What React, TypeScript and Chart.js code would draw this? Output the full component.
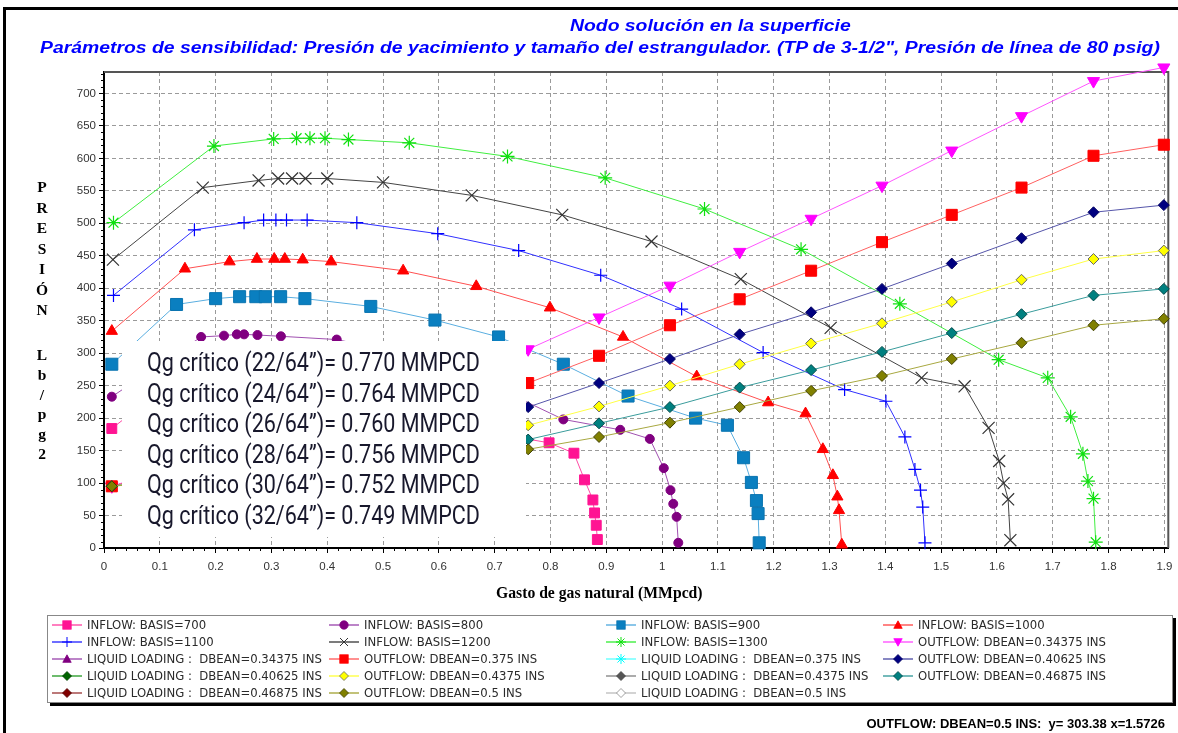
import React, { useEffect, useRef } from 'react';
import { Chart, registerables } from 'chart.js';

Chart.register(...registerables);

// ---------------- DATA ----------------
const inflow700X = [0.014, 0.12, 0.17, 0.2, 0.23, 0.26, 0.3, 0.4, 0.5, 0.6, 0.69, 0.7975, 0.842, 0.861, 0.876, 0.879, 0.882, 0.884];
const inflow700Y = [184, 255, 262, 265, 266, 266, 265, 258, 244, 222, 178, 162, 146, 105, 74, 54, 35, 13];

const inflow800X = [0.014, 0.174, 0.215, 0.238, 0.251, 0.275, 0.317, 0.417, 0.52, 0.62, 0.72, 0.823, 0.925, 0.978, 1.003, 1.015, 1.02, 1.026, 1.029];
const inflow800Y = [233, 325, 327, 329, 329, 328, 326, 321, 302, 278, 240, 198, 182, 168, 123, 89, 68, 48, 8];

const inflow900X = [0.014, 0.13, 0.2, 0.243, 0.272, 0.289, 0.3165, 0.36, 0.478, 0.593, 0.707, 0.823, 0.939, 1.06, 1.117, 1.146, 1.16, 1.169, 1.172, 1.174];
const inflow900Y = [283, 375, 384, 387, 387, 387, 387, 384, 372, 351, 325, 283, 234, 200, 189, 139, 101, 73, 53, 8];

const inflow1000X = [0.014, 0.145, 0.225, 0.274, 0.305, 0.324, 0.356, 0.407, 0.536, 0.667, 0.799, 0.93, 1.062, 1.19, 1.257, 1.288, 1.306, 1.314, 1.317, 1.322];
const inflow1000Y = [334, 430, 441, 445, 445, 445, 444, 441, 427, 403, 370, 325, 264, 224, 207, 152, 112, 79, 58, 5];

const inflow1100X = [0.017, 0.162, 0.251, 0.286, 0.308, 0.327, 0.364, 0.453, 0.598, 0.743, 0.89, 1.035, 1.181, 1.327, 1.401, 1.435, 1.453, 1.463, 1.467, 1.471];
const inflow1100Y = [389, 490, 501, 505, 505, 505, 505, 501, 484, 458, 420, 368, 301, 244, 226, 171, 121, 89, 63, 8];

const inflow1200X = [0.016, 0.177, 0.277, 0.312, 0.337, 0.361, 0.4, 0.5, 0.659, 0.821, 0.981, 1.141, 1.302, 1.465, 1.542, 1.585, 1.604, 1.612, 1.62, 1.624];
const inflow1200Y = [444, 555, 566, 569, 569, 569, 569, 563, 543, 513, 472, 414, 339, 262, 249, 185, 134, 100, 75, 12];

const inflow1300X = [0.017, 0.197, 0.304, 0.345, 0.369, 0.396, 0.438, 0.547, 0.723, 0.898, 1.076, 1.249, 1.426, 1.603, 1.691, 1.732, 1.754, 1.763, 1.773, 1.777];
const inflow1300Y = [501, 619, 630, 631, 631, 631, 629, 624, 603, 570, 522, 460, 376, 290, 262, 202, 145, 103, 76, 9];

const outflowX = [0.014, 0.76, 0.887, 1.014, 1.139, 1.267, 1.394, 1.519, 1.644, 1.773, 1.899];
const outflow34375Y = [95, 306, 355, 404, 456, 507, 558, 612, 665, 719, 740];
const outflow375Y = [95, 254, 296, 343, 383, 427, 471, 513, 555, 604, 621];
const outflow40625Y = [95, 217, 254, 291, 329, 363, 399, 438, 477, 517, 528];
const outflow4375Y = [95, 189, 218, 250, 283, 315, 346, 379, 413, 445, 458];
const outflow46875Y = [95, 167, 192, 217, 247, 274, 302, 331, 360, 389, 399];
const outflow5Y = [95, 152, 171, 193, 217, 242, 265, 291, 316, 343, 353];

const emptyX: number[] = [];
const emptyY: number[] = [];

const qgLines = [
  'Qg crítico (22/64”)= 0.770 MMPCD',
  'Qg crítico (24/64”)= 0.764 MMPCD',
  'Qg crítico (26/64”)= 0.760 MMPCD',
  'Qg crítico (28/64”)= 0.756 MMPCD',
  'Qg crítico (30/64”)= 0.752 MMPCD',
  'Qg crítico (32/64”)= 0.749 MMPCD',
];

const titleLine1 = 'Nodo solución en la superficie';
const titleLine2 = 'Parámetros de sensibilidad: Presión de yacimiento y tamaño del estrangulador. (TP de 3-1/2", Presión de línea de 80 psig)';
const yTitleTop = ['P', 'R', 'E', 'S', 'I', 'Ó', 'N'];
const yTitleBottom = ['L', 'b', '/', 'p', 'g', '2'];
const xTitle = 'Gasto de gas natural (MMpcd)';
const statusText = 'OUTFLOW: DBEAN=0.5 INS:  y= 303.38 x=1.5726';

type Spec = { label: string; xs: number[]; ys: number[]; line: string; fill: string; stroke: string; style: string; r: number; rot?: number };

const SERIES: Spec[] = [
  { label: 'INFLOW: BASIS=700', xs: inflow700X, ys: inflow700Y, line: '#ff4aa5', fill: '#ff1493', stroke: '#ff1493', style: 'rect', r: 7 },
  { label: 'INFLOW: BASIS=800', xs: inflow800X, ys: inflow800Y, line: '#a050b0', fill: '#800080', stroke: '#800080', style: 'circle', r: 4.5 },
  { label: 'INFLOW: BASIS=900', xs: inflow900X, ys: inflow900Y, line: '#5aaee0', fill: '#0a7fc0', stroke: '#0a74b0', style: 'rect', r: 8.5 },
  { label: 'INFLOW: BASIS=1000', xs: inflow1000X, ys: inflow1000Y, line: '#ff5050', fill: '#ff0000', stroke: '#ff0000', style: 'triangle', r: 6.5 },
  { label: 'INFLOW: BASIS=1100', xs: inflow1100X, ys: inflow1100Y, line: '#3030ff', fill: '#0000ff', stroke: '#0000ff', style: 'cross', r: 6.5 },
  { label: 'INFLOW: BASIS=1200', xs: inflow1200X, ys: inflow1200Y, line: '#444444', fill: '#333333', stroke: '#333333', style: 'crossRot', r: 8.5 },
  { label: 'INFLOW: BASIS=1300', xs: inflow1300X, ys: inflow1300Y, line: '#40ee40', fill: '#10e010', stroke: '#10e010', style: 'star', r: 7 },
  { label: 'OUTFLOW: DBEAN=0.34375 INS', xs: outflowX, ys: outflow34375Y, line: '#ff55ff', fill: '#ff00ff', stroke: '#ff00ff', style: 'triangle', r: 7, rot: 180 },
  { label: 'LIQUID LOADING :  DBEAN=0.34375 INS', xs: emptyX, ys: emptyY, line: '#a050b0', fill: '#800080', stroke: '#800080', style: 'triangle', r: 6 },
  { label: 'OUTFLOW: DBEAN=0.375 INS', xs: outflowX, ys: outflow375Y, line: '#ff6060', fill: '#ff0000', stroke: '#ff0000', style: 'rect', r: 7.8 },
  { label: 'LIQUID LOADING :  DBEAN=0.375 INS', xs: emptyX, ys: emptyY, line: '#66ffff', fill: '#00ffff', stroke: '#00ffff', style: 'star', r: 6 },
  { label: 'OUTFLOW: DBEAN=0.40625 INS', xs: outflowX, ys: outflow40625Y, line: '#5555aa', fill: '#000080', stroke: '#000060', style: 'rectRot', r: 5.5 },
  { label: 'LIQUID LOADING :  DBEAN=0.40625 INS', xs: emptyX, ys: emptyY, line: '#30a030', fill: '#006400', stroke: '#004000', style: 'rectRot', r: 5.5 },
  { label: 'OUTFLOW: DBEAN=0.4375 INS', xs: outflowX, ys: outflow4375Y, line: '#ffff44', fill: '#ffff00', stroke: '#666666', style: 'rectRot', r: 5.5 },
  { label: 'LIQUID LOADING :  DBEAN=0.4375 INS', xs: emptyX, ys: emptyY, line: '#888888', fill: '#555555', stroke: '#444444', style: 'rectRot', r: 5.5 },
  { label: 'OUTFLOW: DBEAN=0.46875 INS', xs: outflowX, ys: outflow46875Y, line: '#3a9c9c', fill: '#008080', stroke: '#004848', style: 'rectRot', r: 5.5 },
  { label: 'LIQUID LOADING :  DBEAN=0.46875 INS', xs: emptyX, ys: emptyY, line: '#a04040', fill: '#800000', stroke: '#500000', style: 'rectRot', r: 5.5 },
  { label: 'OUTFLOW: DBEAN=0.5 INS', xs: outflowX, ys: outflow5Y, line: '#a8a840', fill: '#808000', stroke: '#404000', style: 'rectRot', r: 5.5 },
  { label: 'LIQUID LOADING :  DBEAN=0.5 INS', xs: emptyX, ys: emptyY, line: '#c0c0c0', fill: '#ffffff', stroke: '#888888', style: 'rectRot', r: 5.5 },
];

const SANS = '"Liberation Sans", Arial, sans-serif';
const SERIF = '"Liberation Serif", "Times New Roman", serif';

const framePlugin = {
  id: 'frameMinor',
  beforeDatasetsDraw(chart: any) {
    const { ctx, chartArea: a, scales } = chart;
    ctx.save();
    ctx.strokeStyle = '#555';
    ctx.lineWidth = 2;
    ctx.beginPath();
    ctx.moveTo(a.left, a.top);
    ctx.lineTo(a.right, a.top);
    ctx.lineTo(a.right, a.bottom);
    ctx.stroke();
    ctx.strokeStyle = '#000';
    ctx.lineWidth = 1;
    ctx.beginPath();
    for (let v = 10; v < 735; v += 10) {
      if (v % 50 === 0) continue;
      const y = Math.round(scales.y.getPixelForValue(v)) + 0.5;
      ctx.moveTo(a.left - 3, y);
      ctx.lineTo(a.left, y);
    }
    for (let k = 1; k < 96; k++) {
      if (k % 5 === 0) continue;
      const x = Math.round(scales.x.getPixelForValue(k * 0.02)) + 0.5;
      ctx.moveTo(x, a.bottom);
      ctx.lineTo(x, a.bottom + 3);
    }
    ctx.stroke();
    ctx.restore();
  },
};

const boxPlugin = {
  id: 'qgBox',
  afterDatasetsDraw(chart: any) {
    const ctx = chart.ctx;
    ctx.save();
    ctx.fillStyle = '#ffffff';
    ctx.fillRect(122, 341, 404, 196);
    ctx.font = '25px Roboto, "Liberation Sans", sans-serif';
    ctx.fillStyle = '#18182c';
    ctx.textBaseline = 'middle';
    ctx.textAlign = 'left';
    const w0 = ctx.measureText(qgLines[0]).width;
    const sx = 333 / w0;
    qgLines.forEach((t, i) => {
      ctx.save();
      ctx.translate(147, 365 + i * 30.5);
      ctx.scale(sx, 1);
      ctx.fillText(t, 0, 0);
      ctx.restore();
    });
    ctx.restore();
  },
};

function Marker({ s }: { s: Spec }) {
  const cx = 15, cy = 6;
  const r = 4.2;
  let shape: any = null;
  switch (s.style) {
    case 'rect':
      shape = <rect x={cx - r} y={cy - r} width={2 * r} height={2 * r} fill={s.fill} stroke={s.stroke} strokeWidth={0.8} />;
      break;
    case 'circle':
      shape = <circle cx={cx} cy={cy} r={r} fill={s.fill} stroke={s.stroke} strokeWidth={0.8} />;
      break;
    case 'triangle': {
      const up = !s.rot;
      const pts = up
        ? `${cx},${cy - r} ${cx + r},${cy + r * 0.8} ${cx - r},${cy + r * 0.8}`
        : `${cx},${cy + r} ${cx + r},${cy - r * 0.8} ${cx - r},${cy - r * 0.8}`;
      shape = <polygon points={pts} fill={s.fill} stroke={s.stroke} strokeWidth={0.8} />;
      break;
    }
    case 'cross':
      shape = <g stroke={s.stroke} strokeWidth={1}><line x1={cx - 5} y1={cy} x2={cx + 5} y2={cy} /><line x1={cx} y1={cy - 5} x2={cx} y2={cy + 5} /></g>;
      break;
    case 'crossRot':
      shape = <g stroke={s.stroke} strokeWidth={1}><line x1={cx - 4} y1={cy - 4} x2={cx + 4} y2={cy + 4} /><line x1={cx - 4} y1={cy + 4} x2={cx + 4} y2={cy - 4} /></g>;
      break;
    case 'star':
      shape = <g stroke={s.stroke} strokeWidth={1}><line x1={cx - 5} y1={cy} x2={cx + 5} y2={cy} /><line x1={cx} y1={cy - 5} x2={cx} y2={cy + 5} /><line x1={cx - 3.5} y1={cy - 3.5} x2={cx + 3.5} y2={cy + 3.5} /><line x1={cx - 3.5} y1={cy + 3.5} x2={cx + 3.5} y2={cy - 3.5} /></g>;
      break;
    default:
      shape = <polygon points={`${cx - 4.5},${cy} ${cx},${cy - 4.5} ${cx + 4.5},${cy} ${cx},${cy + 4.5}`} fill={s.fill} stroke={s.stroke} strokeWidth={0.8} />;
  }
  return (
    <svg width={30} height={12} style={{ position: 'absolute', left: 0, top: -6, overflow: 'visible' }}>
      <line x1={0} y1={6} x2={30} y2={6} stroke={s.line} strokeWidth={1.4} />
      {shape}
    </svg>
  );
}

export default function App() {
  const ref = useRef<HTMLCanvasElement | null>(null);

  useEffect(() => {
    if (!ref.current) return;
    const datasets = SERIES.map((s, i) => ({
      label: s.label,
      data: s.xs.map((x, k) => ({ x, y: s.ys[k] })),
      borderColor: s.line,
      backgroundColor: s.fill,
      borderWidth: 1,
      pointStyle: s.style,
      pointRadius: s.r,
      pointRotation: s.rot || 0,
      pointBackgroundColor: s.fill,
      pointBorderColor: s.stroke,
      pointBorderWidth: s.style === 'cross' || s.style === 'crossRot' || s.style === 'star' ? 1.2 : 1,
      showLine: true,
      tension: 0,
      fill: false,
      clip: false as any,
      order: -i,
    }));
    const chart = new Chart(ref.current, {
      type: 'line',
      data: { datasets } as any,
      options: {
        animation: false,
        responsive: false,
        devicePixelRatio: 1,
        layout: { padding: { left: 0, top: 72, right: 6, bottom: 0 } },
        plugins: { legend: { display: false }, tooltip: { enabled: false }, title: { display: false } },
        scales: {
          x: {
            type: 'linear',
            min: 0,
            max: 1.907,
            afterFit: (s: any) => { s.height = 185; s.paddingLeft = 0; s.paddingRight = 0; },
            ticks: {
              stepSize: 0.1,
              includeBounds: false,
              autoSkip: false,
              maxRotation: 0,
              color: '#333',
              font: { family: SANS, size: 11.5 },
              padding: 7,
              callback: (v: any) => String(Number(Number(v).toFixed(1))),
            },
            grid: { color: '#9a9a9a', lineWidth: 1, tickLength: 5, tickColor: '#000', tickWidth: 1 },
            border: { display: true, color: '#000', width: 2, dash: [4, 3] },
          },
          y: {
            type: 'linear',
            min: 0,
            max: 733,
            afterFit: (s: any) => { s.width = 104; s.paddingTop = 0; s.paddingBottom = 0; },
            ticks: {
              stepSize: 50,
              includeBounds: false,
              color: '#333',
              font: { family: SANS, size: 11.5 },
              padding: 3,
            },
            grid: { color: '#9a9a9a', lineWidth: 1, tickLength: 5, tickColor: '#000', tickWidth: 1 },
            border: { display: true, color: '#000', width: 2, dash: [4, 3] },
          },
        },
      } as any,
      plugins: [framePlugin, boxPlugin],
    });
    return () => chart.destroy();
  }, []);

  const titleStyle = (left: number, top: number): React.CSSProperties => ({
    position: 'absolute', left, top, whiteSpace: 'pre', font: `italic bold 16px ${SANS}`, color: '#0000ff',
    lineHeight: '20px', transform: 'scaleX(1.21)', transformOrigin: '0 0',
  });

  return (
    <div style={{ position: 'absolute', left: 0, top: 0, width: 1178, height: 733, background: '#fff', overflow: 'hidden' }}>
      <canvas ref={ref} width={1178} height={733} style={{ position: 'absolute', left: 0, top: 0 }} />
      {/* outer frame */}
      <div style={{ position: 'absolute', left: 3, top: 7, width: 1175, height: 3, background: '#000' }} />
      <div style={{ position: 'absolute', left: 3, top: 7, width: 3, height: 726, background: '#000' }} />
      {/* titles */}
      <div style={titleStyle(570, 16)}>{titleLine1}</div>
      <div style={titleStyle(40, 38)}>{titleLine2}</div>
      {/* y title */}
      {yTitleTop.map((c, i) => (
        <div key={'t' + i} style={{ position: 'absolute', left: 30, width: 24, top: 187 + i * 20.5 - 10, textAlign: 'center', font: `bold 15.5px ${SERIF}`, color: '#000', lineHeight: '20px' }}>{c}</div>
      ))}
      {yTitleBottom.map((c, i) => (
        <div key={'b' + i} style={{ position: 'absolute', left: 30, width: 24, top: 355 + i * 19.8 - 10, textAlign: 'center', font: `bold 15.5px ${SERIF}`, color: '#000', lineHeight: '20px' }}>{c}</div>
      ))}
      {/* x title */}
      <div style={{ position: 'absolute', left: 496, top: 583, whiteSpace: 'pre', font: `bold 15.7px ${SERIF}`, color: '#000', lineHeight: '20px' }}>{xTitle}</div>
      {/* legend */}
      <div style={{ position: 'absolute', left: 47, top: 615, width: 1124, height: 86, border: '1px solid #888', background: '#fff', boxShadow: '3px 3px 0 #000' }} />
      {SERIES.map((s, i) => {
        const col = i % 4;
        const row = Math.floor(i / 4);
        const left = 52 + col * 277;
        const top = 625 + row * 17;
        return (
          <div key={'l' + i} style={{ position: 'absolute', left, top, height: 0 }}>
            <Marker s={s} />
            <div style={{ position: 'absolute', left: 35, top: -8, whiteSpace: 'pre', font: `11.7px "DejaVu Sans", sans-serif`, color: '#2a2a2a', lineHeight: '16px' }}>{s.label}</div>
          </div>
        );
      })}
      {/* status text */}
      <div style={{ position: 'absolute', right: 13, top: 716, whiteSpace: 'pre', font: `bold 13px ${SANS}`, color: '#000', lineHeight: '16px' }}>{statusText}</div>
    </div>
  );
}
